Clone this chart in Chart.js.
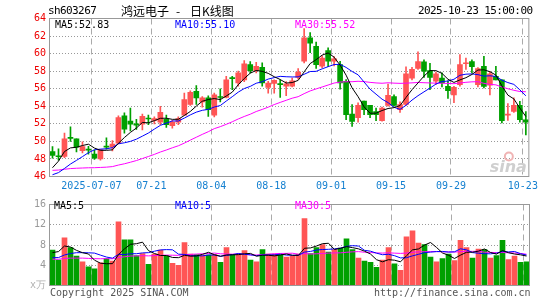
<!DOCTYPE html>
<html>
<head>
<meta charset="utf-8">
<script src="https://cdn.jsdelivr.net/npm/chart.js@4.4.1/dist/chart.umd.min.js"></script>
<style>
  body { margin: 0; background: #fff; width: 545px; height: 300px; overflow: hidden; position: relative; font-family: 'DejaVu Sans Mono', monospace; }
  canvas { position: absolute; left: 0; }
  .t { position: absolute; white-space: pre; font-size: 10px; line-height: 12px; }
</style>
</head>
<body>
<canvas id="kline" width="545" height="195" style="top:0"></canvas>
<canvas id="vol" width="545" height="105" style="top:195px"></canvas>

<div class="t" style="left:48px;top:5px;font-size:11px;letter-spacing:-0.6px;color:#000">sh603267</div>
<div class="t" style="left:121px;top:4px;font-size:12px;font-family:'Noto Sans CJK SC';line-height:14px;color:#000">鸿远电子</div>
<div class="t" style="left:176px;top:4px;font-size:12px;font-family:'Noto Sans CJK SC';line-height:14px;color:#000">-</div>
<div class="t" style="left:190px;top:4px;font-size:12px;font-family:'Noto Sans CJK SC';line-height:14px;color:#000">日K线图</div>
<div class="t" style="left:418px;top:5px;font-size:11px;letter-spacing:-0.6px;color:#000">2025-10-23 15:00:00</div>

<div class="t" style="left:55px;top:19px;color:#000">MA5:52.83</div>
<div class="t" style="left:175px;top:19px;color:#0000ff">MA10:55.10</div>
<div class="t" style="left:295px;top:19px;color:#ff00ff">MA30:55.52</div>

<div class="t" style="left:54px;top:200px;color:#000">MA5:5</div>
<div class="t" style="left:175px;top:200px;color:#0000ff">MA10:5</div>
<div class="t" style="left:295px;top:200px;color:#ff00ff">MA30:5</div>

<div class="t" style="left:50px;top:287px;color:#555">Copyright 2025 SINA.COM</div>
<div class="t" style="left:374px;top:287px;color:#555">http://finance.sina.com.cn</div>

<script>
// trading days shown (80 bars)
const dates = [
  '2025-06-26','2025-06-27','2025-06-30','2025-07-01','2025-07-02','2025-07-03','2025-07-04',
  '2025-07-07','2025-07-08','2025-07-09','2025-07-10','2025-07-11',
  '2025-07-14','2025-07-15','2025-07-16','2025-07-17','2025-07-18',
  '2025-07-21','2025-07-22','2025-07-23','2025-07-24','2025-07-25',
  '2025-07-28','2025-07-29','2025-07-30','2025-07-31','2025-08-01',
  '2025-08-04','2025-08-05','2025-08-06','2025-08-07','2025-08-08',
  '2025-08-11','2025-08-12','2025-08-13','2025-08-14','2025-08-15',
  '2025-08-18','2025-08-19','2025-08-20','2025-08-21','2025-08-22',
  '2025-08-25','2025-08-26','2025-08-27','2025-08-28','2025-08-29',
  '2025-09-01','2025-09-02','2025-09-03','2025-09-04','2025-09-05',
  '2025-09-08','2025-09-09','2025-09-10','2025-09-11','2025-09-12',
  '2025-09-15','2025-09-16','2025-09-17','2025-09-18','2025-09-19',
  '2025-09-22','2025-09-23','2025-09-24','2025-09-25','2025-09-26',
  '2025-09-29','2025-09-30','2025-10-09','2025-10-10',
  '2025-10-13','2025-10-14','2025-10-15','2025-10-16','2025-10-17',
  '2025-10-20','2025-10-21','2025-10-22','2025-10-23'
];

const open = [48.85,48.35,48.3,50.45,50.3,48.95,49.1,48.55,48.0,49.45,
  49.35,49.8,52.9,52.3,52.0,51.95,52.6,52.4,52.2,52.5,
  51.8,52.2,53.0,54.2,55.7,54.5,54.95,53.0,55.1,55.0,
  57.25,56.65,57.0,58.75,58.05,58.45,56.15,56.6,56.6,56.3,
  56.3,57.3,59.13,61.79,60.84,58.56,60.35,59.13,58.75,56.85,
  53.1,52.7,54.6,54.1,53.4,52.36,54.1,55.1,53.6,54.2,
  57.2,58.3,59.05,58.06,56.85,57.2,56.27,55.3,56.45,58.85,
  59.1,56.45,58.56,56.4,57.4,57.0,53.0,53.4,54.1,52.47];
const high = [49.4,49.15,50.95,51.65,50.3,49.95,49.45,49.0,49.1,50.4,
  50.1,52.9,53.25,53.8,52.5,53.1,53.0,52.8,54.0,53.0,
  52.4,52.8,55.5,55.75,56.35,55.1,55.2,55.5,56.0,57.4,
  57.4,58.0,59.2,59.1,59.0,58.95,56.85,57.0,57.0,56.8,
  57.2,58.3,62.86,62.4,61.3,59.75,60.65,59.65,59.13,57.03,
  54.18,54.4,54.6,54.1,53.8,53.9,56.54,55.3,54.5,58.5,
  58.45,60.2,59.3,58.9,57.9,57.8,56.9,56.27,59.9,59.5,
  59.3,58.4,59.7,57.95,58.55,57.0,54.3,54.95,54.55,53.4];
const low = [48.1,47.85,48.15,50.0,48.8,48.7,48.55,47.95,47.85,49.1,
  48.9,49.7,50.95,51.2,51.35,51.3,51.9,52.0,51.9,51.6,
  51.5,51.9,53.0,54.1,54.2,53.9,52.85,52.8,54.5,54.95,
  55.9,56.3,56.8,57.8,57.8,56.3,55.5,55.5,55.0,55.2,
  56.2,57.1,58.94,60.1,58.3,58.4,58.5,58.6,55.95,52.47,
  51.7,52.2,53.05,52.7,52.35,52.3,54.0,54.0,53.3,54.1,
  57.0,58.2,57.3,55.9,56.5,56.2,54.9,54.4,56.3,58.2,
  57.8,56.2,56.1,55.3,57.0,52.1,52.4,53.3,52.2,50.75];
const close = [48.4,48.25,50.3,50.35,49.35,49.4,49.0,48.1,49.05,49.35,
  49.7,52.7,51.4,51.95,51.85,52.85,52.55,52.6,53.3,51.9,
  52.2,52.6,54.75,55.6,54.95,54.95,53.6,55.3,55.0,57.0,
  57.15,57.8,58.85,58.05,58.55,56.65,56.65,56.95,56.45,56.55,
  56.9,57.9,61.79,61.2,58.75,59.5,59.13,59.4,56.65,53.04,
  52.28,54.1,53.6,53.04,53.04,53.8,55.25,54.1,54.2,57.7,
  58.2,59.1,58.0,57.3,57.7,56.65,55.78,56.15,58.75,58.94,
  58.5,58.3,56.27,57.7,57.0,52.35,53.04,54.1,52.47,52.2];

// volume, 万手
const volume = [7.0,5.0,9.4,7.5,5.8,4.7,3.7,3.3,4.5,5.3,
  4.8,12.6,9.0,9.0,5.9,6.3,4.2,6.2,7.0,5.9,
  4.4,4.0,8.5,6.2,6.1,6.0,6.0,6.1,4.6,7.5,
  6.1,6.2,6.9,5.0,4.7,7.1,6.2,6.2,6.0,5.6,
  5.8,6.2,13.2,6.3,7.5,8.1,6.6,7.1,7.4,9.2,
  7.1,5.4,4.8,4.6,3.6,5.0,7.5,4.3,3.0,9.6,
  10.8,8.4,8.1,5.6,4.7,5.3,6.2,4.9,8.9,7.5,
  5.4,7.2,7.1,5.4,5.9,8.9,5.1,5.8,4.6,4.7];

// estimated history before the window, only used to seed the moving averages
const priorClose = [47.2,47.6,48.0,48.3,48.5,48.2,47.9,48.1,48.4,47.8,
  47.5,47.0,46.6,46.2,45.9,45.6,45.4,45.2,45.0,44.6,
  45.8,45.6,45.3,45.2,45.1,44.5,44.85,48.25,49.0];
const priorVolume = [5.5,4.8,5.2,6.0,4.6,5.3,4.9,5.1,4.7,5.6,
  4.8,5.0,4.5,5.3,4.9,5.2,4.6,5.1,4.9,5.0,
  4.8,4.3,4.6,4.2,4.6,4.0,3.9,8.5,9.1];

const tickIndex = [7, 17, 27, 37, 47, 57, 67, 79];
const tickLabels = ['2025-07-07','07-21','08-04','08-18','09-01','09-15','09-29','10-23'];

const UP = '#ff5555';
const DOWN = '#00a000';
const monoFont = { family: "'DejaVu Sans Mono', monospace", size: 10 };

function movingAvg(values, prior, n) {
  const all = prior.concat(values);
  return values.map((_, i) => {
    const end = prior.length + i + 1;
    let sum = 0;
    for (let k = end - n; k < end; k++) sum += all[k];
    return sum / n;
  });
}

const upDown = ctx => close[ctx.dataIndex] >= open[ctx.dataIndex] ? UP : DOWN;
const gridColor = ctx => tickIndex.includes(ctx.index) ? '#aaaaaa' : 'rgba(0,0,0,0)';

function maLine(data, color) {
  return { type: 'line', data: data, borderColor: color, borderWidth: 1, pointRadius: 0, tension: 0, order: 0 };
}

const framePlugin = {
  id: 'frame',
  afterDraw(chart) {
    const { ctx, chartArea: a } = chart;
    ctx.save();
    ctx.strokeStyle = '#999';
    ctx.lineWidth = 1;
    ctx.strokeRect(a.left, a.top, a.right - a.left, a.bottom - a.top);
    ctx.restore();
  }
};

const sinaMark = {
  id: 'sinaMark',
  beforeDatasetsDraw(chart) {
    const { ctx, chartArea: a } = chart;
    ctx.save();
    ctx.font = "italic bold 16px 'DejaVu Sans'";
    ctx.fillStyle = '#cfcfcf';
    ctx.textAlign = 'right';
    ctx.fillText('sina', a.right - 2, a.bottom - 5);
    ctx.strokeStyle = '#f0b4b4';
    ctx.lineWidth = 2;
    ctx.beginPath();
    ctx.arc(a.right - 20, a.bottom - 20, 4, 0, Math.PI * 2);
    ctx.stroke();
    ctx.restore();
  }
};

new Chart(document.getElementById('kline'), {
  type: 'bar',
  data: {
    labels: dates,
    datasets: [
      maLine(movingAvg(close, priorClose, 5), '#000000'),
      maLine(movingAvg(close, priorClose, 10), '#0000ff'),
      maLine(movingAvg(close, priorClose, 30), '#ff00ff'),
      {
        data: close.map((c, i) => [open[i], c]),
        backgroundColor: upDown, borderWidth: 0,
        barThickness: 5, minBarLength: 1, grouped: false, order: 1
      },
      {
        data: low.map((l, i) => [l, high[i]]),
        backgroundColor: upDown, borderWidth: 0,
        barThickness: 1, grouped: false, order: 2
      }
    ]
  },
  options: {
    responsive: false,
    animation: false,
    devicePixelRatio: 1,
    layout: { padding: { top: 18.5, right: 15.5, left: 0, bottom: 0 } },
    plugins: { legend: { display: false }, tooltip: { enabled: false } },
    scales: {
      x: {
        offset: true,
        grid: { offset: true, drawTicks: false, color: gridColor, lineWidth: 1 },
        border: { display: false, dash: [6, 4] },
        ticks: {
          autoSkip: false, maxRotation: 0, minRotation: 0, padding: 4, labelOffset: -3,
          color: '#1580d0', font: monoFont,
          callback: (v, i) => {
            const p = tickIndex.indexOf(i);
            return p >= 0 ? tickLabels[p] : '';
          }
        },
        afterFit: s => { s.height = 18.5; }
      },
      y: {
        min: 46, max: 64,
        ticks: { stepSize: 2, color: '#ee0000', font: monoFont, padding: 3.5 },
        grid: { drawTicks: false, color: '#999' },
        border: { display: false, dash: [1, 2] },
        afterFit: s => { s.width = 49.5; }
      }
    }
  },
  plugins: [sinaMark, framePlugin]
});

new Chart(document.getElementById('vol'), {
  type: 'bar',
  data: {
    labels: dates,
    datasets: [
      maLine(movingAvg(volume, priorVolume, 5), '#000000'),
      maLine(movingAvg(volume, priorVolume, 10), '#0000ff'),
      maLine(movingAvg(volume, priorVolume, 30), '#ff00ff'),
      {
        data: volume,
        backgroundColor: upDown, borderWidth: 0,
        barThickness: 5, order: 1
      }
    ]
  },
  options: {
    responsive: false,
    animation: false,
    devicePixelRatio: 1,
    layout: { padding: { top: 6.5, right: 15.5, left: 0, bottom: 14.5 } },
    plugins: { legend: { display: false }, tooltip: { enabled: false } },
    scales: {
      x: {
        offset: true,
        grid: { offset: true, drawTicks: false, color: gridColor, lineWidth: 1 },
        border: { display: false, dash: [6, 4] },
        ticks: { display: false },
        afterFit: s => { s.height = 0; }
      },
      y: {
        min: 0, max: 16,
        ticks: {
          stepSize: 4, color: ctx => ctx.tick && ctx.tick.value === 0 ? '#b0b0b0' : '#999',
          font: monoFont, padding: 3.5,
          callback: v => v === 0 ? 'x万' : v
        },
        grid: { drawTicks: false, color: '#999' },
        border: { display: false, dash: [1, 2] },
        afterFit: s => { s.width = 49.5; }
      }
    }
  },
  plugins: [framePlugin]
});
</script>
</body>
</html>
